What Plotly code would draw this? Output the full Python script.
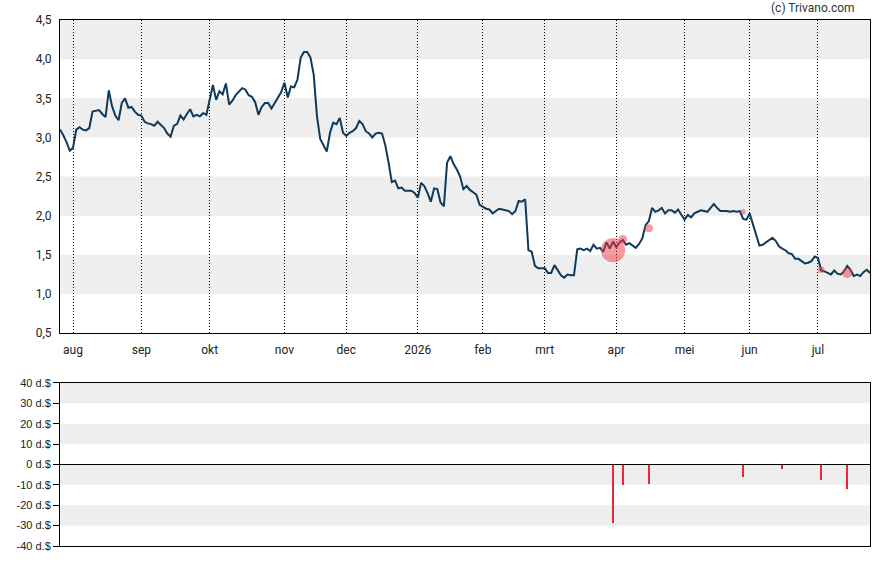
import pandas as pd
import plotly.graph_objects as go

# ---- data -------------------------------------------------------------
start_date = "2025-07-28"
end_date = "2026-07-24"
market_holidays = ["2025-09-01", "2025-11-27", "2025-12-25", "2026-01-01", "2026-01-19",
                   "2026-02-16", "2026-04-03", "2026-05-25", "2026-06-19", "2026-07-03"]

price = [
    3.10, 3.03, 2.94, 2.83, 2.87, 3.10, 3.13, 3.10, 3.09, 3.12,
    3.33, 3.34, 3.35, 3.30, 3.26, 3.60, 3.40, 3.28, 3.22, 3.44,
    3.50, 3.38, 3.39, 3.33, 3.29, 3.28, 3.20, 3.18, 3.17, 3.15,
    3.20, 3.16, 3.12, 3.05, 3.01, 3.15, 3.17, 3.28, 3.23, 3.30,
    3.36, 3.27, 3.29, 3.27, 3.31, 3.29, 3.50, 3.67, 3.48, 3.59,
    3.55, 3.69, 3.42, 3.47, 3.54, 3.58, 3.63, 3.61, 3.54, 3.52,
    3.45, 3.29, 3.39, 3.44, 3.44, 3.37, 3.44, 3.51, 3.58, 3.70,
    3.51, 3.65, 3.64, 3.74, 4.02, 4.09, 4.09, 4.02, 3.80, 3.27,
    2.98, 2.90, 2.82, 3.06, 3.19, 3.17, 3.25, 3.06, 3.02, 3.06,
    3.08, 3.12, 3.21, 3.17, 3.08, 3.05, 3.00, 3.05, 3.06, 3.05,
    2.90, 2.68, 2.43, 2.45, 2.35, 2.36, 2.32, 2.32, 2.32, 2.29,
    2.23, 2.42, 2.38, 2.29, 2.18, 2.35, 2.34, 2.17, 2.12, 2.68,
    2.76, 2.66, 2.59, 2.50, 2.34, 2.38, 2.33, 2.30, 2.27, 2.14,
    2.11, 2.09, 2.08, 2.03, 2.06, 2.09, 2.08, 2.07, 2.06, 2.02,
    2.06, 2.19, 2.18, 2.21, 1.56, 1.54, 1.36, 1.33, 1.33, 1.33,
    1.27, 1.27, 1.37, 1.30, 1.24, 1.21, 1.25, 1.24, 1.24, 1.57,
    1.58, 1.56, 1.58, 1.55, 1.63, 1.58, 1.59, 1.54, 1.66, 1.58,
    1.67, 1.60, 1.66, 1.69, 1.63, 1.65, 1.62, 1.59, 1.64, 1.71,
    1.88, 1.93, 2.10, 2.05, 2.07, 2.10, 2.03, 2.07, 2.07, 2.04,
    2.08, 2.01, 1.95, 2.01, 1.98, 2.03, 2.05, 2.07, 2.06, 2.05,
    2.10, 2.15, 2.10, 2.06, 2.06, 2.06, 2.05, 2.06, 2.05, 2.06,
    1.96, 1.95, 2.03, 1.90, 1.74, 1.62, 1.63, 1.66, 1.70, 1.72,
    1.68, 1.61, 1.58, 1.56, 1.52, 1.51, 1.45, 1.45, 1.42, 1.39,
    1.40, 1.42, 1.48, 1.46, 1.30, 1.29, 1.27, 1.25, 1.30, 1.26,
    1.25, 1.29, 1.36, 1.31, 1.23, 1.25, 1.23, 1.28, 1.31, 1.27,
]

trade_dates = ["2026-03-31", "2026-04-06", "2026-04-16", "2026-05-28",
               "2026-06-15", "2026-07-02", "2026-07-15"]
trade_prices = [1.56, 1.70, 1.84, 2.05, 1.59, 1.31, 1.27]
trade_amounts = [-28.6, -10.1, -9.6, -6.2, -2.3, -7.6, -12.0]

month_names = {8: "aug", 9: "sep", 10: "okt", 11: "nov", 12: "dec", 1: "2026",
               2: "feb", 3: "mrt", 4: "apr", 5: "mei", 6: "jun", 7: "jul"}

price_ticks = [0.5, 1.0, 1.5, 2.0, 2.5, 3.0, 3.5, 4.0, 4.5]
price_tick_text = ["0,5", "1,0", "1,5", "2,0", "2,5", "3,0", "3,5", "4,0", "4,5"]
amount_ticks = [40, 30, 20, 10, 0, -10, -20, -30, -40]
amount_tick_text = ["40 d.$", "30 d.$", "20 d.$", "10 d.$", "0 d.$",
                    "-10 d.$", "-20 d.$", "-30 d.$", "-40 d.$"]

# ---- build ------------------------------------------------------------
cbd = pd.offsets.CustomBusinessDay(holidays=market_holidays)
dates_idx = pd.date_range(start_date, end_date, freq=cbd)
dates = [d.strftime("%Y-%m-%d") for d in dates_idx][:len(price)]

month_tickvals, month_ticktext = [], []
prev_month = None
for d in dates_idx[:len(price)]:
    if d.month != prev_month and prev_month is not None:
        month_tickvals.append(d.strftime("%Y-%m-%d"))
        month_ticktext.append(month_names[d.month])
    prev_month = d.month

LINE = "#103a5a"
RED = "#e8283c"
FONT_TOP = dict(family="Roboto", size=12, color="#222222")
FONT_BOT = dict(family="Liberation Sans, Arial", size=11, color="#222222")

fig = go.Figure()

fig.add_trace(go.Scatter(
    x=dates, y=price, mode="lines", line=dict(color=LINE, width=2),
    xaxis="x", yaxis="y", showlegend=False))

fig.add_trace(go.Scatter(
    x=trade_dates, y=trade_prices, mode="markers",
    marker=dict(size=[abs(a) for a in trade_amounts], sizemode="diameter", sizeref=1 / 0.85,
                color="rgba(240,55,72,0.72)", line=dict(width=0)),
    xaxis="x", yaxis="y", hoverinfo="skip", showlegend=False))

fig.add_trace(go.Bar(
    x=trade_dates, y=trade_amounts, marker=dict(color=RED, line=dict(width=0)),
    width=0.65, xaxis="x2", yaxis="y2", showlegend=False))

shapes = []
for lo, hi in [(1.0, 1.5), (2.0, 2.5), (3.0, 3.5), (4.0, 4.5)]:
    shapes.append(dict(type="rect", xref="paper", x0=0, x1=1, yref="y", y0=lo, y1=hi,
                       fillcolor="#eeeeee", line=dict(width=0), layer="below"))
for lo, hi in [(30, 40), (10, 20), (-10, 0), (-30, -20)]:
    shapes.append(dict(type="rect", xref="paper", x0=0, x1=1, yref="y2", y0=lo, y1=hi,
                       fillcolor="#eeeeee", line=dict(width=0), layer="below"))

n = len(dates)
W, H = 888, 565
ml, mr, mt, mb = 60, 18, 20, 16
ph = H - mt - mb
top_dom = [(H - mb - 335) / ph, 1.0]
bot_dom = [0.0, (H - mb - 385) / ph]

fig.update_layout(
    width=W, height=H, margin=dict(l=ml, r=mr, t=mt, b=mb),
    paper_bgcolor="white", plot_bgcolor="white",
    shapes=shapes, bargap=0,
    xaxis=dict(type="category", categoryorder="array", categoryarray=dates,
               range=[0, n - 1], domain=[0, 1], anchor="y",
               tickvals=month_tickvals, ticktext=month_ticktext,
               showgrid=True, gridcolor="black", gridwidth=1, griddash="1px,2px",
               showline=True, linecolor="black", linewidth=1, mirror=True,
               ticks="outside", ticklen=5, tickcolor="rgba(0,0,0,0)",
               tickfont=FONT_TOP, zeroline=False, fixedrange=True),
    yaxis=dict(domain=top_dom, range=[0.5, 4.5], anchor="x",
               tickvals=price_ticks, ticktext=price_tick_text,
               showgrid=False, zeroline=False,
               showline=True, linecolor="black", linewidth=1, mirror=True,
               ticks="outside", ticklen=5, tickcolor="rgba(0,0,0,0)",
               tickfont=FONT_TOP),
    xaxis2=dict(type="category", categoryorder="array", categoryarray=dates,
                range=[0, n - 1], domain=[0, 1], anchor="y2",
                showticklabels=False, showgrid=False, zeroline=False,
                showline=True, linecolor="black", linewidth=1, mirror=True, ticks=""),
    yaxis2=dict(domain=bot_dom, range=[-40, 40], anchor="x2",
                tickvals=amount_ticks, ticktext=amount_tick_text,
                showgrid=False, zeroline=True, zerolinecolor="black", zerolinewidth=1,
                showline=True, linecolor="black", linewidth=1, mirror=True,
                ticks="outside", ticklen=6, tickcolor="black", tickwidth=1,
                tickfont=FONT_BOT),
    annotations=[dict(text="(c) Trivano.com", xref="paper", yref="paper",
                      x=(857 - ml) / (W - ml - mr), y=(H - mb - 8) / ph,
                      xanchor="right", yanchor="middle", showarrow=False,
                      font=dict(family="Roboto", size=12, color="#333333"))],
)

fig.write_html("out.html")
